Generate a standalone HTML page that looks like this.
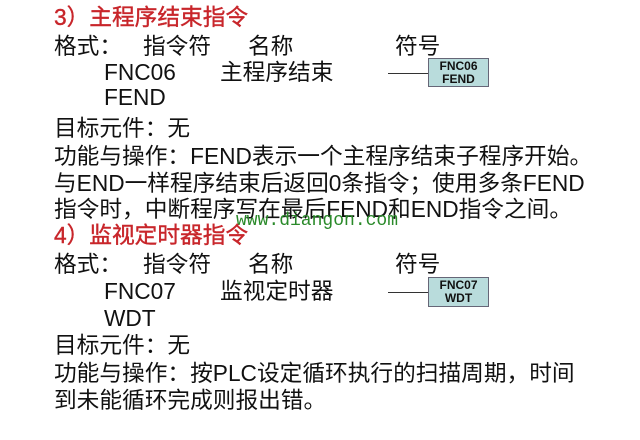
<!DOCTYPE html>
<html><head><meta charset="utf-8"><style>
body{margin:0;width:640px;height:440px;background:#fff;position:relative;overflow:hidden;font-family:"Liberation Sans","Noto Sans CJK SC",sans-serif;font-size:22.7px;color:#111}
.l{position:absolute;white-space:pre;line-height:26px}
.r{color:#c8262b;-webkit-text-stroke:0.4px #c8262b}
.box{position:absolute;left:428px;width:61px;height:29px;background:#b9dcdc;border:1px solid #667;font-size:12px;font-weight:bold;line-height:13px;text-align:center;box-sizing:border-box;padding-top:1px}
.ln{position:absolute;left:388px;width:40px;height:1px;background:#333}
.wm{position:absolute;left:236px;top:211px;font-family:"Liberation Mono",monospace;font-size:18px;color:#2a8a2a}
</style></head><body>
<div class="l r" style="left:54px;top:4px">3）主程序结束指令</div>
<div class="l" style="left:54px;top:33px">格式：</div><div class="l" style="left:143px;top:33px">指令符</div><div class="l" style="left:248px;top:33px">名称</div><div class="l" style="left:395px;top:33px">符号</div>
<div class="l" style="left:104px;top:59px">FNC06</div><div class="l" style="left:220px;top:59px">主程序结束</div>
<div class="l" style="left:104px;top:84px">FEND</div>
<div class="l" style="left:54px;top:115px">目标元件：无</div>
<div class="l" style="left:54px;top:143px">功能与操作：FEND表示一个主程序结束子程序开始。</div>
<div class="l" style="left:54px;top:170px">与END一样程序结束后返回0条指令；使用多条FEND</div>
<div class="l" style="left:54px;top:196px">指令时，中断程序写在最后FEND和END指令之间。</div>
<div class="wm">www.diangon.com</div>
<div class="l r" style="left:54px;top:222px">4）监视定时器指令</div>
<div class="l" style="left:54px;top:251px">格式：</div><div class="l" style="left:143px;top:251px">指令符</div><div class="l" style="left:248px;top:251px">名称</div><div class="l" style="left:395px;top:251px">符号</div>
<div class="l" style="left:104px;top:278px">FNC07</div><div class="l" style="left:220px;top:278px">监视定时器</div>
<div class="l" style="left:104px;top:305px">WDT</div>
<div class="l" style="left:54px;top:332px">目标元件：无</div>
<div class="l" style="left:54px;top:360px">功能与操作：按PLC设定循环执行的扫描周期，时间</div>
<div class="l" style="left:54px;top:387px">到未能循环完成则报出错。</div>
<div class="ln" style="top:73px"></div>
<div class="box" style="top:58px">FNC06<br>FEND</div>
<div class="ln" style="top:292px"></div>
<div class="box" style="top:277px;height:30px">FNC07<br>WDT</div>
</body></html>
